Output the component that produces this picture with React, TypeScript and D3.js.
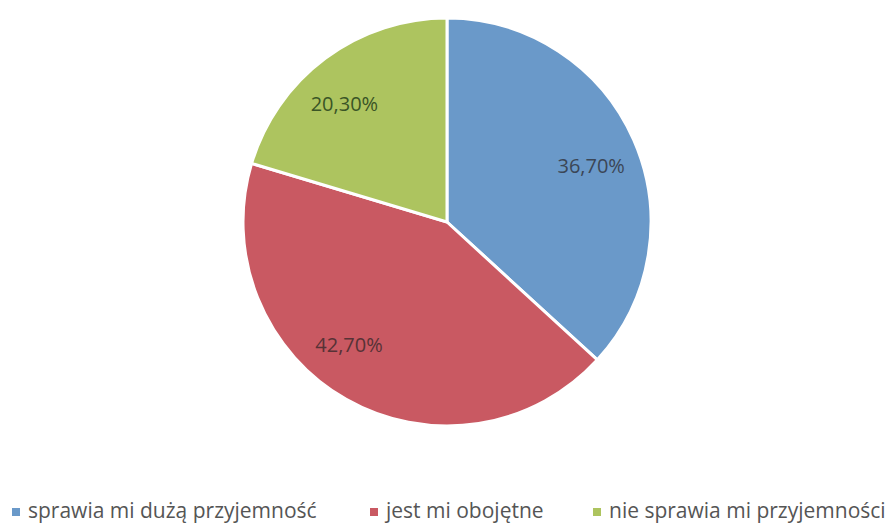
import { useMemo } from "react";
import { pie, arc, PieArcDatum } from "d3";

const categories = ["sprawia mi dużą przyjemność", "jest mi obojętne", "nie sprawia mi przyjemności"];
const shares = [36.7, 42.7, 20.3];
const shareLabels = ["36,70%", "42,70%", "20,30%"];
const colors = ["#6a99c9", "#c95962", "#adc45f"];
const labelColors = ["#3b4656", "#573236", "#3a5526"];

type Slice = { name: string; value: number; i: number };

export default function App() {
    const width = 890;
    const height = 527;
    const cx = 447;
    const cy = 222;
    const r = 204;

    const arcs = useMemo(() => {
        const data: Slice[] = categories.map((name, i) => ({ name, value: shares[i], i }));
        return pie<Slice>().value((d) => d.value).sort(null)(data);
    }, []);

    const arcGen = arc<PieArcDatum<Slice>>().innerRadius(0).outerRadius(r);

    // Excel-style "best fit" label spots: radius factor and angle shift (radians)
    const labelSpot = (a: PieArcDatum<Slice>) => {
        const tweak = [
            { k: 0.76, da: 0.038 },
            { k: 0.77, da: 0.157 },
            { k: 0.77, da: -0.072 },
        ][a.data.i];
        const ang = (a.startAngle + a.endAngle) / 2 + tweak.da;
        return [Math.sin(ang) * r * tweak.k, -Math.cos(ang) * r * tweak.k];
    };

    // legend marker x positions
    const legendX = [12, 370, 593];

    return (
        <svg
            width={width}
            height={height}
            style={{ position: "absolute", left: 0, top: 0, background: "#ffffff" }}
            fontFamily="'Open Sans', 'Noto Sans', sans-serif"
        >
            <g transform={`translate(${cx},${cy})`}>
                {arcs.map((a) => (
                    <path key={a.data.name} d={arcGen(a) || ""} fill={colors[a.data.i]} stroke="#ffffff" strokeWidth={3} />
                ))}
                {arcs.map((a) => {
                    const [x, y] = labelSpot(a);
                    return (
                        <text
                            key={"l" + a.data.name}
                            x={x}
                            y={y}
                            textAnchor="middle"
                            dominantBaseline="central"
                            fontSize={20}
                            fill={labelColors[a.data.i]}
                        >
                            {shareLabels[a.data.i]}
                        </text>
                    );
                })}
            </g>
            <g>
                {categories.map((c, i) => (
                    <g key={c} transform={`translate(${legendX[i]},0)`}>
                        <rect x={0} y={508} width={8} height={8} fill={colors[i]} />
                        <text x={16} y={518} fontSize={21} fill="#555555">
                            {c}
                        </text>
                    </g>
                ))}
            </g>
        </svg>
    );
}
